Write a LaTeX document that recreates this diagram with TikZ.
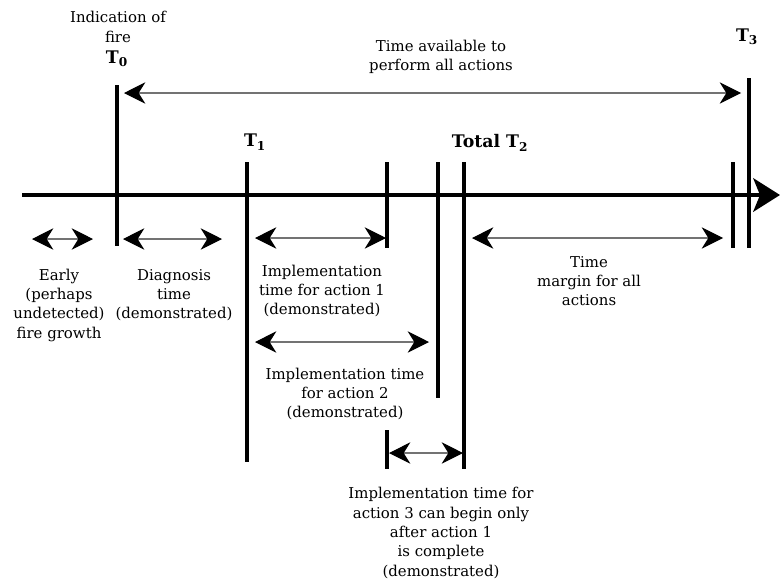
\documentclass[tikz,border=0pt]{standalone}
\usepackage{fontspec}
\setmainfont{DejaVu Serif}
\usetikzlibrary{arrows.meta}
\begin{document}
\begin{tikzpicture}[x=0.75pt,y=-0.75pt,
  lbl/.style={align=center,font=\fontsize{11.2}{14.5}\selectfont,inner sep=0pt},
  tlbl/.style={font=\fontsize{13}{15}\selectfont\bfseries,inner sep=0pt},
  tick/.style={line width=2.3pt},
  dim/.style={draw=black!55,line width=0.8pt,
    {Stealth[length=16pt,width=16pt,inset=5pt,color=black]}-{Stealth[length=16pt,width=16pt,inset=5pt,color=black]}},
  axis/.style={line width=3.4pt,-{Stealth[length=20pt,width=25pt,inset=5pt]}}]
\useasboundingbox (0,0) rectangle (780,582);
% axis
\coordinate (a0) at (22,195);
\coordinate (a1) at (780,195);
\draw[axis] (a0) -- (a1);
% vertical marks
\coordinate (t0a) at (117,85);  \coordinate (t0b) at (117,246);
\coordinate (t1a) at (247,162); \coordinate (t1b) at (247,462);
\coordinate (e1a) at (387,162); \coordinate (e1b) at (387,248);
\coordinate (e2a) at (438,162); \coordinate (e2b) at (438,398);
\coordinate (t2a) at (464,162); \coordinate (t2b) at (464,469);
\coordinate (m1a) at (733,162); \coordinate (m1b) at (733,248);
\coordinate (t3a) at (749,78);  \coordinate (t3b) at (749,248);
\coordinate (s3a) at (387,430); \coordinate (s3b) at (387,469);
\foreach \p in {t0,t1,e1,e2,t2,m1,t3,s3}{\draw[tick] (\p a) -- (\p b);}
% dimension arrows
\coordinate (ta) at (124,93);  \coordinate (tb) at (741,93);
\coordinate (ea) at (32,239);  \coordinate (eb) at (93,239);
\coordinate (da) at (123,239); \coordinate (db) at (222,239);
\coordinate (ia) at (255,238); \coordinate (ib) at (386,238);
\coordinate (ja) at (255,342); \coordinate (jb) at (429,342);
\coordinate (ma) at (472,238); \coordinate (mb) at (723,238);
\coordinate (ka) at (389,453); \coordinate (kb) at (463,453);
\foreach \p in {t,e,d,i,j,m,k}{\draw[dim] (\p a) -- (\p b);}
% labels
\node[lbl] (ind) at (118,27) {Indication of\\fire};
\node[tlbl] (T0) at (117,59) {T\textsubscript{0}};
\node[lbl] (avail) at (441,57) {Time available to\\perform all actions};
\node[tlbl] (T3) at (747,37) {T\textsubscript{3}};
\node[tlbl] (T1) at (255,142) {T\textsubscript{1}};
\node[tlbl] (T2) at (490,143) {Total T\textsubscript{2}};
\node[lbl] (early) at (59,305) {Early\\(perhaps\\undetected)\\fire growth};
\node[lbl] (diag) at (174,295) {Diagnosis\\time\\(demonstrated)};
\node[lbl] (imp1) at (322,291) {Implementation\\time for action 1\\(demonstrated)};
\node[lbl] (imp2) at (345,394) {Implementation time\\for action 2\\(demonstrated)};
\node[lbl] (marg) at (589,281) {Time\\margin for all\\actions};
\node[lbl] (imp3) at (441,533) {Implementation time for\\action 3 can begin only\\after action 1\\is complete\\(demonstrated)};
\end{tikzpicture}
\end{document}
